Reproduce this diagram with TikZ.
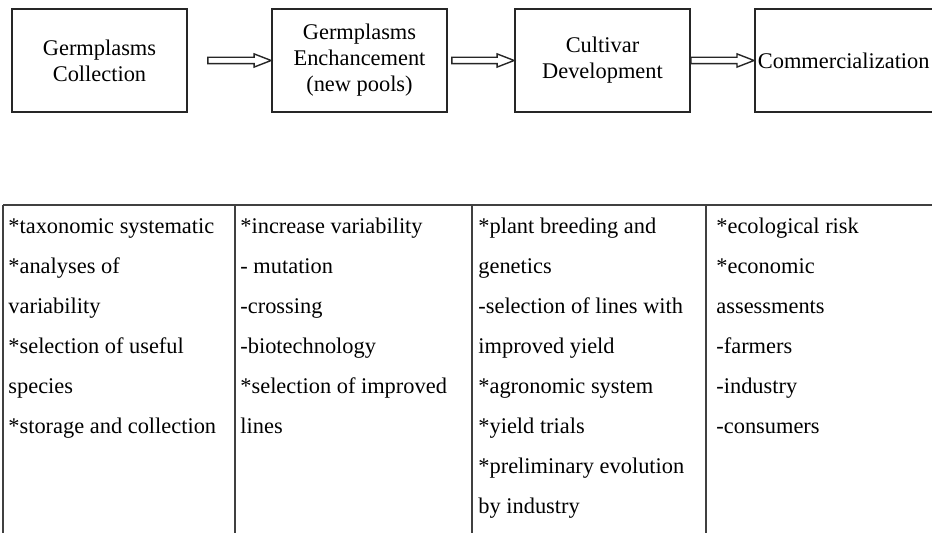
\documentclass[tikz,border=0pt]{standalone}
\usepackage{fontspec}
\setmainfont{Liberation Serif}
\usetikzlibrary{calc}
\tikzset{
  box/.style={draw=black!85, line width=0.9pt, minimum width=87.5pt,
    minimum height=51.5pt, align=center, inner sep=0pt,
    font=\fontsize{11.2}{13}\selectfont},
  lastbox/.style={box, anchor=west, align=left, text width=127pt,
    inner xsep=1.5pt},
  hollow/.style={draw=black!85, line width=0.7pt, fill=white, line join=miter},
  rule/.style={draw=black!75, line width=0.9pt},
  cell/.style={anchor=north west, align=left, inner sep=0pt,
    font=\fontsize{11.2}{20}\selectfont},
}
% open block arrow from #1 to #2
\newcommand{\fatarrow}[2]{%
  \draw[hollow] let \p1=(#1), \p2=(#2) in
    (\x1,\y1+1.6pt) -- (\x2-8.5pt,\y1+1.6pt) -- (\x2-8.5pt,\y1+3.3pt)
    -- (\x2,\y1) -- (\x2-8.5pt,\y1-3.3pt) -- (\x2-8.5pt,\y1-1.6pt)
    -- (\x1,\y1-1.6pt) -- cycle;}

\begin{document}
\begin{tikzpicture}[x=0.5pt, y=-0.5pt]
  \useasboundingbox (0,0) rectangle (932,533);

  % ---- Pipeline ----------------------------------------------------------
  \node[box] (collect)  at (99.5,60.5)  {Germplasms\\Collection};
  \node[box] (enhance)  at (359.5,60.5) {Germplasms\\Enchancement\\(new pools)};
  \node[box] (cultivar) at (602.5,60.5) {Cultivar\\Development};
  \node[lastbox] (commerce) at (754,60.5) {Commercialization};

  \fatarrow{$(collect.east)+(20,0)$}{enhance.west}
  \fatarrow{$(enhance.east)+(4,0)$}{cultivar.west}
  \fatarrow{cultivar.east}{commerce.west}

  % ---- Activities table --------------------------------------------------
  \draw[rule] (3,205) -- (940,205);
  \foreach \x in {3,235,472,706}
    \draw[rule] (\x,205) -- (\x,540);

  \node[cell] (actCollect) at (8,218)
    {*taxonomic systematic\\*analyses of\\variability\\*selection of useful\\species\\*storage and collection};
  \node[cell] (actEnhance) at (240,218)
    {*increase variability\\- mutation\\-crossing\\-biotechnology\\*selection of improved\\lines};
  \node[cell] (actCultivar) at (478,218)
    {*plant breeding and\\genetics\\-selection of lines with\\improved yield\\*agronomic system\\*yield trials\\*preliminary evolution\\by industry};
  \node[cell] (actCommerce) at (716,218)
    {*ecological risk\\*economic\\assessments\\-farmers\\-industry\\-consumers};

\end{tikzpicture}
\end{document}
